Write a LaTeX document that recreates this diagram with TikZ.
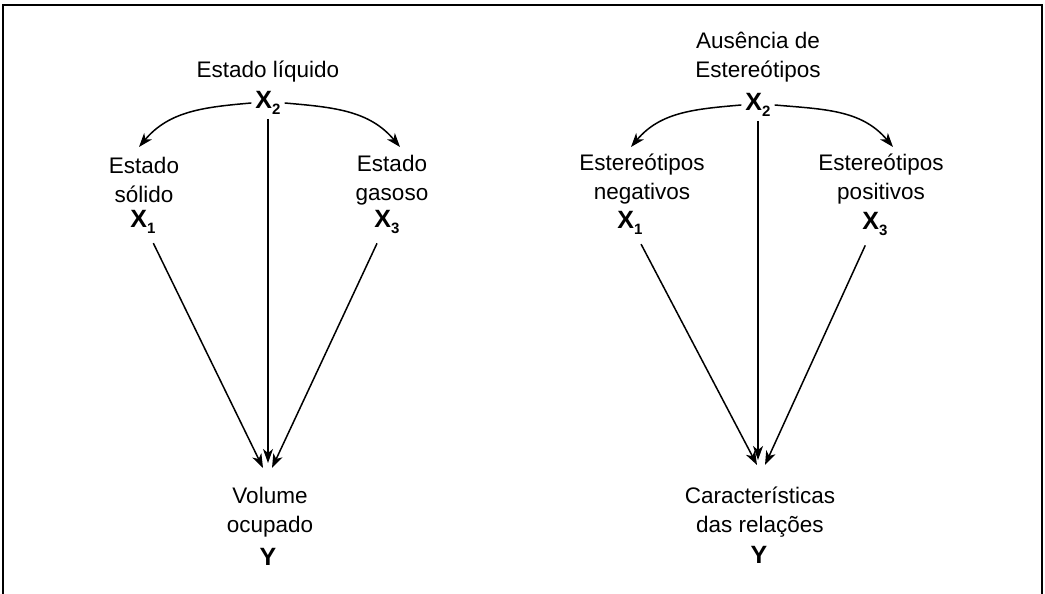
\documentclass[tikz,border=0pt]{standalone}
\usepackage{fontspec}
\setmainfont{Liberation Sans}
\usetikzlibrary{arrows.meta}
\newcommand\varsub[1]{\raisebox{-6pt}{\fontsize{15}{15}\selectfont\bfseries #1}}
\begin{document}
\begin{tikzpicture}[x=1pt,y=1pt,
  lbl/.style={align=center,font=\fontsize{22.5}{29.5}\selectfont,inner sep=0pt},
  var/.style={font=\fontsize{25}{25}\selectfont\bfseries,inner sep=4pt},
  arr/.style={line width=1.5pt,-{Stealth[length=14pt,width=10pt,inset=4pt]}},
  frameline/.style={line width=1.8pt}]
\useasboundingbox (0,0) rectangle (1045,594);
\draw[frameline] (3,0) -- (3,589) -- (1042,589) -- (1042,0);

% left diagram
\node[lbl] (lq) at (268,522) {Estado líquido};
\node[var] (a2) at (268,491) {X\varsub{2}};
\node[lbl] (ls) at (144,414) {Estado\\sólido};
\node[var] (a1) at (143,372) {X\varsub{1}};
\node[lbl] (lg) at (392,414) {Estado\\gasoso};
\node[var] (a3) at (387,372) {X\varsub{3}};
\node[lbl] (lv) at (270,82) {Volume\\ocupado};
\node[var] (ay) at (268,37) {Y};
\coordinate (aT1) at (139,447);
\coordinate (aT3) at (400,447);
\coordinate (aB1) at (263,126);
\coordinate (aB2) at (268,131);
\coordinate (aB3) at (272,126);
\draw[arr] (a2.west) to[out=185,in=50] (aT1);
\draw[arr] (a2.east) to[out=-5,in=130] (aT3);
\draw[arr] (a2) -- (aB2);
\draw[arr,shorten <=6pt] (a1) -- (aB1);
\draw[arr,shorten <=6pt] (a3) -- (aB3);

% right diagram
\node[lbl] (ra) at (758,537) {Ausência de\\Estereótipos};
\node[var] (b2) at (758,489) {X\varsub{2}};
\node[lbl] (rn) at (642,415) {Estereótipos\\negativos};
\node[var] (b1) at (630,371) {X\varsub{1}};
\node[lbl] (rp) at (881,415) {Estereótipos\\positivos};
\node[var] (b3) at (875,370) {X\varsub{3}};
\node[lbl] (rc) at (760,82) {Características\\das relações};
\node[var] (by) at (759,39) {Y};
\coordinate (bT1) at (631,447);
\coordinate (bT3) at (893,447);
\coordinate (bB1) at (757,129);
\coordinate (bB2) at (758,134);
\coordinate (bB3) at (765,129);
\draw[arr] (b2.west) to[out=185,in=50] (bT1);
\draw[arr] (b2.east) to[out=-5,in=130] (bT3);
\draw[arr] (b2) -- (bB2);
\draw[arr,shorten <=6pt] (b1) -- (bB1);
\draw[arr,shorten <=6pt] (b3) -- (bB3);
\end{tikzpicture}
\end{document}
